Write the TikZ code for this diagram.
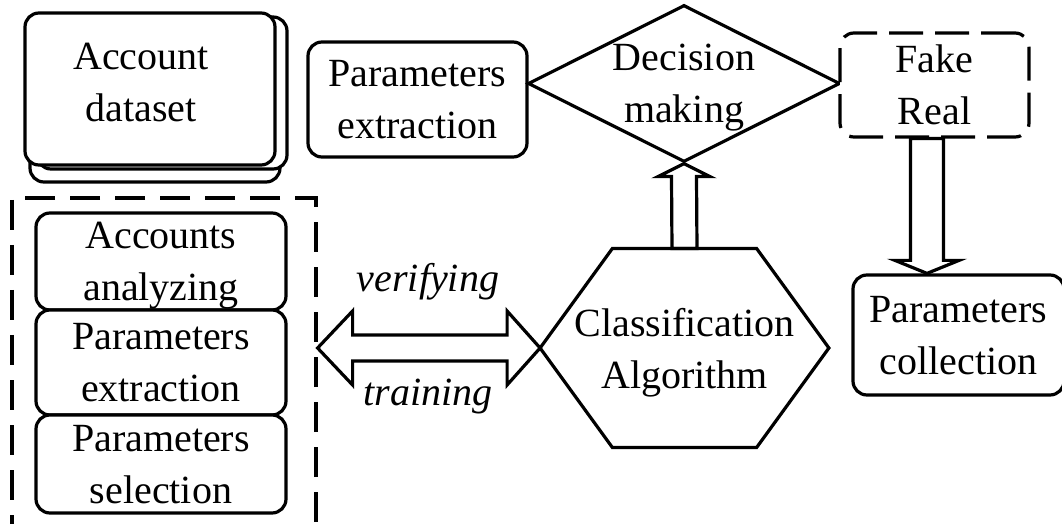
\documentclass[tikz,border=0pt]{standalone}
\usepackage{fontspec}
\setmainfont{Liberation Serif}
\usetikzlibrary{shapes.geometric,calc,shadows}

\tikzset{
  box/.style={draw, rounded corners=7pt, line width=1.6pt, fill=white, align=center, inner sep=0pt, text depth=0pt},
  dashbox/.style={box, dash pattern=on 17pt off 6pt},
  grpbox/.style={draw, line width=1.6pt, dash pattern=on 15pt off 7.5pt, inner sep=0pt},
  txt/.style={align=center, inner sep=0pt, text depth=0pt},
  lbl/.style={inner sep=0pt, font=\fontsize{20}{26}\selectfont\itshape},
  hollow/.style={draw, line width=1.6pt, line join=miter},
}

\begin{document}
\begin{tikzpicture}[x=0.5pt, y=-0.5pt, font=\fontsize{20}{26}\selectfont]
    \useasboundingbox (0,0) rectangle (1062,524);
    % top row
    \node[box, minimum width=125pt, minimum height=76pt,
      copy shadow={shadow xshift=2.5pt, shadow yshift=-8.5pt, draw, fill=white, line width=1.6pt},
      copy shadow={shadow xshift=6pt, shadow yshift=-2pt, draw, fill=white, line width=1.6pt}]
      (acc) at (150,89) {};
    \node[txt] (acct) at ($(acc.center)+(-9,-6.5)$) {Account\\dataset};
    \node[box, minimum width=109.5pt, minimum height=57.5pt] (pex) at (417.5,99.5) {Parameters\\extraction};
    \node[draw, diamond, line width=1.6pt, minimum width=156pt, minimum height=78.5pt, inner sep=0pt] (dec) at (684,83.5) {};
    \node[txt] (dect) at (dec.center) {Decision\\making};
    \node[dashbox, minimum width=94.5pt, minimum height=52pt] (fr) at (934.5,85) {Fake\\Real};
    % training group
    \node[grpbox, minimum width=152pt, minimum height=190pt] (grp) at (164,388) {};
    \node[box, minimum width=125pt, minimum height=48.5pt] (ana) at (161,261.5) {Accounts\\analyzing};
    \node[box, minimum width=125pt, minimum height=52.5pt] (pex2) at (161,362.5) {Parameters\\extraction};
    \node[box, minimum width=125pt, minimum height=49pt] (sel) at (161,464) {Parameters\\selection};
    % classifier
    \node[txt, minimum width=144pt, minimum height=99pt] (cls) at (684.5,348) {Classification\\Algorithm};
    \draw[line width=1.6pt] (cls.west) -- ($(cls.north west)!.25!(cls.north east)$)
      -- ($(cls.north west)!.75!(cls.north east)$) -- (cls.east)
      -- ($(cls.south west)!.75!(cls.south east)$) -- ($(cls.south west)!.25!(cls.south east)$) -- cycle;
    \node[box, minimum width=105.5pt, minimum height=60pt] (col) at (958.5,335) {Parameters\\collection};
    % arrows
    \coordinate (dtop) at ($(fr.south)+(-7.5,0)$);
    \coordinate (dtip) at (dtop |- col.north);
    \draw[hollow] ($(dtop)+(-16.5,0)$) -- ($(dtip)+(-16.5,-13)$) -- ($(dtip)+(-32,-13)$) -- (dtip)
      -- ($(dtip)+(32,-13)$) -- ($(dtip)+(16.5,-13)$) -- ($(dtop)+(16.5,0)$) -- cycle;
    \draw[hollow] ($(cls.north)+(-12.5,0)$) -- ($(dec.south)+(-12.5,13)$) -- ($(dec.south)+(-26,13)$) -- (dec.south)
      -- ($(dec.south)+(26,13)$) -- ($(dec.south)+(12.5,13)$) -- ($(cls.north)+(12.5,0)$) -- cycle;
    \coordinate (lt) at (grp.east |- cls.west);
    \draw[hollow] (lt) -- ++(35,-37) -- ++(0,24) -- ($(cls.west)+(-33,-13)$) -- ++(0,-24) -- (cls.west)
      -- ++(-33,37) -- ++(0,-24) -- ($(lt)+(35,13)$) -- ++(0,24) -- cycle;
    \node[lbl] (ver) at (428,282) {verifying};
    \node[lbl] (tra) at (428,397) {training};
\end{tikzpicture}
\end{document}
